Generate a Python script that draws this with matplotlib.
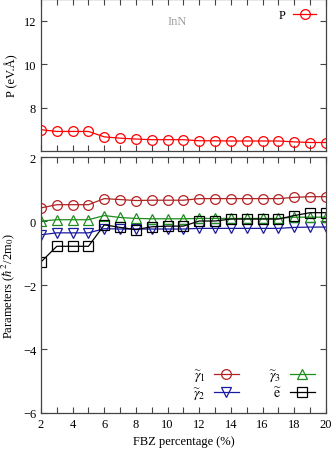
import numpy as np
import matplotlib
matplotlib.use('Agg')
import matplotlib.pyplot as plt
from matplotlib.ticker import MultipleLocator

plt.rcParams['font.family'] = ['Liberation Serif', 'DejaVu Serif']
plt.rcParams['mathtext.fontset'] = 'stix'
plt.rcParams['font.size'] = 9

# FBZ percentage
fbz = [2, 3, 4, 5, 6, 7, 8, 9, 10, 11, 12, 13, 14, 15, 16, 17, 18, 19, 20]

# P (eV.A)
p_vals = [6.98, 6.90, 6.90, 6.90, 6.65, 6.59, 6.55, 6.52, 6.52, 6.52,
          6.47, 6.47, 6.46, 6.46, 6.46, 6.46, 6.42, 6.39, 6.39]

# Luttinger-like parameters
gamma1 = [0.41, 0.51, 0.51, 0.51, 0.70, 0.67, 0.64, 0.65, 0.65, 0.65,
          0.70, 0.70, 0.70, 0.70, 0.70, 0.70, 0.74, 0.76, 0.76]
gamma2 = [-0.43, -0.37, -0.37, -0.37, -0.24, -0.25, -0.25, -0.25, -0.25, -0.25,
          -0.23, -0.23, -0.23, -0.23, -0.23, -0.23, -0.20, -0.19, -0.19]
gamma3 = [0.00, 0.04, 0.04, 0.04, 0.17, 0.11, 0.08, 0.07, 0.07, 0.07,
          0.08, 0.08, 0.08, 0.08, 0.08, 0.08, 0.12, 0.12, 0.12]
e_vals = [-1.28, -0.79, -0.79, -0.79, -0.12, -0.20, -0.27, -0.18, -0.16, -0.16,
          0.00, 0.00, 0.06, 0.06, 0.06, 0.06, 0.17, 0.26, 0.26]

fig = plt.figure(figsize=(3.32, 4.60), dpi=100)
ax1 = fig.add_axes([0.1235, 0.6696, 0.858, 0.3304])
ax2 = fig.add_axes([0.1235, 0.10, 0.858, 0.5565])

mk = dict(markerfacecolor='none', markersize=7, markeredgewidth=0.9, linewidth=0.9)

# top panel
ax1.plot(fbz, p_vals, color='#ff0000', marker='o', label='P', **mk)
ax1.set_xlim(2, 20)
ax1.set_ylim(6, 13)
ax1.set_yticks([8, 10, 12])
ax1.set_ylabel('P (eV.Å)')
ax1.text(10.6, 12, 'InN', color='#a0a0a0', ha='center', va='center')
ax1.tick_params(axis='x', labelbottom=False)
ax1.legend(loc='upper right', frameon=False, markerfirst=False,
           handlelength=1.8, borderaxespad=0.4, handletextpad=0.6)

# bottom panel
ax2.plot(fbz, gamma1, color='#b22222', marker='o', label=r'$\widetilde{\gamma}_1$', **mk)
ax2.plot(fbz, gamma2, color='#1a1aa0', marker='v', label=r'$\widetilde{\gamma}_2$', **mk)
ax2.plot(fbz, gamma3, color='#1e8c1e', marker='^', label=r'$\widetilde{\gamma}_3$', **mk)
ax2.plot(fbz, e_vals, color='black', marker='s', label=r'$\widetilde{\mathrm{e}}$', **mk)
ax2.set_xlim(2, 20)
ax2.set_ylim(-6, 2)
ax2.set_yticks([-6, -4, -2, 0, 2])
ax2.set_xticks(range(2, 21, 2))
ax2.set_xlabel('FBZ percentage (%)')
ax2.set_ylabel(r'Parameters ($\hbar^2$/2m$_0$)')
ax2.legend(loc='lower right', ncol=2, frameon=False, markerfirst=False,
           fontsize=10, handlelength=1.8, borderaxespad=0.4, handletextpad=0.6,
           columnspacing=2.2, labelspacing=0.1)

for ax in (ax1, ax2):
    ax.xaxis.set_minor_locator(MultipleLocator(1))
    ax.tick_params(which='both', direction='in', top=True, right=True,
                   length=4, width=0.8, color='#444444')
    for s in ax.spines.values():
        s.set_color('#444444')
        s.set_linewidth(0.9)

fig.savefig('out.png', dpi=100)
